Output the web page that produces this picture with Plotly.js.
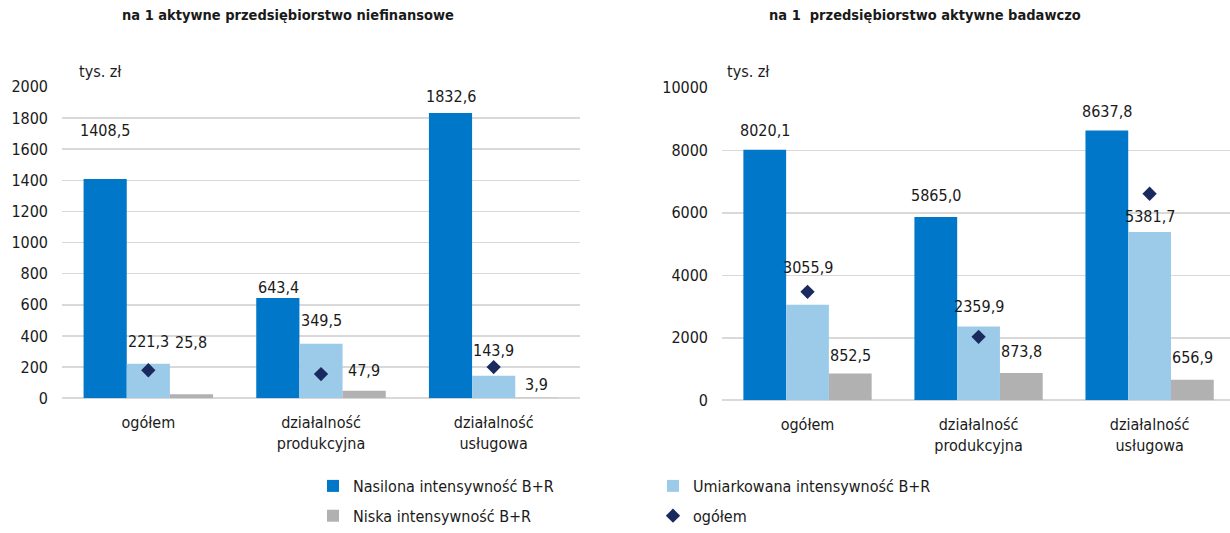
<!DOCTYPE html>
<html>
<head>
<meta charset="utf-8">
<script src="https://cdn.plot.ly/plotly-3.0.1.min.js"></script>
<style>
  html, body { margin: 0; padding: 0; background: #fff; }
  #chart { width: 1230px; height: 533px; }
</style>
</head>
<body>
<div id="chart"></div>
<script>
// kategorie (wspólne dla obu wykresów)
const categories = ["ogółem", "działalność<br>produkcyjna", "działalność<br>usługowa"];

// na 1 aktywne przedsiębiorstwo niefinansowe (tys. zł)
const nasilonaFirm = [1408.5, 643.4, 1832.6];
const umiarkowanaFirm = [221.3, 349.5, 143.9];
const niskaFirm = [25.8, 47.9, 3.9];
const ogolemFirm = [180, 155, 200];

// na 1 przedsiębiorstwo aktywne badawczo (tys. zł)
const nasilonaBR = [8020.1, 5865.0, 8637.8];
const umiarkowanaBR = [3055.9, 2359.9, 5381.7];
const niskaBR = [852.5, 873.8, 656.9];
const ogolemBR = [3470, 2030, 6610];

const seriesNames = ["Nasilona intensywność B+R", "Umiarkowana intensywność B+R", "Niska intensywność B+R", "ogółem"];
const colors = ["#0077c8", "#9ccbea", "#b1b1b1", "#1b2a5e"];

// przesunięcia etykiet nad słupkami (px) - jak w oryginale, ręcznie ustawione
const labelLiftFirm = [[48, 11, 16], [22, 23, 25], [52, 20, 13]];
const labelLiftBR = [[19, 22, 19], [37, 20, 16], [18, 21, 22]];
const barShift = [-43, 0, 43];

const FONT = "'DejaVu Sans Condensed', 'DejaVu Sans', sans-serif";
const fmt = (v) => v.toFixed(1).replace(".", ",");

const traces = [];
const annotations = [];

function addPanel(values, ogolem, lifts, xa, ya, first) {
  values.forEach((vals, s) => {
    traces.push({
      type: "bar",
      x: categories,
      y: vals,
      name: seriesNames[s],
      xaxis: xa,
      yaxis: ya,
      marker: { color: colors[s] },
      showlegend: first,
      legend: s === 1 ? "legend2" : "legend",
      legendgroup: "g" + s,
      hoverinfo: "skip",
    });
    vals.forEach((v, i) => {
      annotations.push({
        xref: xa,
        yref: ya,
        x: categories[i],
        y: v,
        xshift: barShift[s],
        yshift: lifts[s][i],
        text: fmt(v),
        showarrow: false,
        yanchor: "middle",
        font: { family: FONT, size: 16, color: "#1a1a1a" },
      });
    });
  });
  traces.push({
    type: "scatter",
    mode: "markers",
    x: categories,
    y: ogolem,
    name: seriesNames[3],
    xaxis: xa,
    yaxis: ya,
    marker: { symbol: "diamond", size: 11, color: colors[3] },
    showlegend: first,
    legend: "legend2",
    legendgroup: "g3",
    hoverinfo: "skip",
  });
}

addPanel([nasilonaFirm, umiarkowanaFirm, niskaFirm], ogolemFirm, labelLiftFirm, "x", "y", true);
addPanel([nasilonaBR, umiarkowanaBR, niskaBR], ogolemBR, labelLiftBR, "x2", "y2", false);

const W = 1230, H = 533;
const px = (p) => p / W;
const py = (p) => 1 - p / H;

const yAxisBase = {
  showgrid: true,
  gridcolor: "#d9d9d9",
  gridwidth: 1.5,
  zeroline: true,
  zerolinecolor: "#d9d9d9",
  zerolinewidth: 1.5,
  showline: false,
  ticks: "",
  tickformat: "d",
  ticklabelstandoff: 13,
  tickfont: { family: FONT, size: 16, color: "#1a1a1a" },
  fixedrange: true,
};
const xAxisBase = {
  type: "category",
  showgrid: false,
  zeroline: false,
  showline: false,
  ticks: "",
  ticklabelstandoff: 13,
  tickfont: { family: FONT, size: 16, color: "#1a1a1a" },
  fixedrange: true,
};

annotations.push(
  { xref: "paper", yref: "paper", x: px(288), y: py(15), xanchor: "center", yanchor: "middle",
    text: "<b>na 1 aktywne przedsiębiorstwo niefinansowe</b>",
    showarrow: false, font: { family: FONT, size: 14.5, color: "#1a1a1a" } },
  { xref: "paper", yref: "paper", x: px(925), y: py(15), xanchor: "center", yanchor: "middle",
    text: "<b>na 1&nbsp; przedsiębiorstwo aktywne badawczo</b>",
    showarrow: false, font: { family: FONT, size: 14.5, color: "#1a1a1a" } },
  { xref: "paper", yref: "paper", x: px(77), y: py(72), xanchor: "left", yanchor: "middle", text: "tys. zł",
    showarrow: false, font: { family: FONT, size: 16, color: "#1a1a1a" } },
  { xref: "paper", yref: "paper", x: px(725), y: py(72), xanchor: "left", yanchor: "middle", text: "tys. zł",
    showarrow: false, font: { family: FONT, size: 16, color: "#1a1a1a" } }
);

const legendBase = {
  xanchor: "left", yanchor: "top",
  orientation: "v", tracegroupgap: 6, itemwidth: 30,
  font: { family: FONT, size: 16, color: "#1a1a1a" },
  bgcolor: "rgba(0,0,0,0)",
};

const layout = {
  width: W,
  height: H,
  margin: { l: 0, r: 0, t: 0, b: 0 },
  paper_bgcolor: "#fff",
  plot_bgcolor: "#fff",
  barmode: "group",
  bargap: 0.25,
  bargroupgap: 0,
  font: { family: FONT, size: 16, color: "#1a1a1a" },
  xaxis: Object.assign({}, xAxisBase, { domain: [px(62), px(580)], range: [-0.5, 2.5], anchor: "y" }),
  yaxis: Object.assign({}, yAxisBase, { domain: [py(399), py(87)], range: [0, 2000], dtick: 200, anchor: "x" }),
  xaxis2: Object.assign({}, xAxisBase, { domain: [px(722), 1], range: [-0.5, 2.47], anchor: "y2" }),
  yaxis2: Object.assign({}, yAxisBase, { domain: [py(401), py(88)], range: [0, 10000], dtick: 2000, anchor: "x2" }),
  legend: Object.assign({}, legendBase, { x: px(313), y: py(470) }),
  legend2: Object.assign({}, legendBase, { x: px(653), y: py(470) }),
  annotations: annotations,
  showlegend: true,
};

Plotly.newPlot("chart", traces, layout, { displayModeBar: false, staticPlot: true });
</script>
</body>
</html>
